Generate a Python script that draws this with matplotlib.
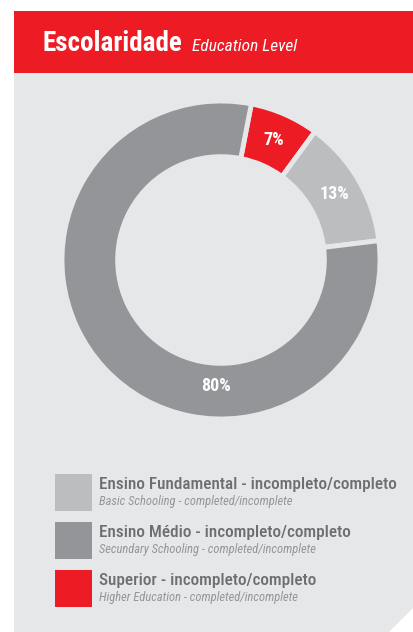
import matplotlib.pyplot as plt
from matplotlib.patches import Polygon, Rectangle

FIGURE_NAME = "out.png"

categories = ["Superior", "Ensino Fundamental", "Ensino Médio"]
shares = [7, 13, 80]
slice_colors = ["#ED1C24", "#BCBDBF", "#939598"]

legend_titles = [
    "Ensino Fundamental - incompleto/completo",
    "Ensino Médio - incompleto/completo",
    "Superior - incompleto/completo",
]
legend_subtitles = [
    "Basic Schooling - completed/incomplete",
    "Secundary Schooling - completed/incomplete",
    "Higher Education - completed/incomplete",
]
legend_colors = ["#BCBDBF", "#939598", "#ED1C24"]

RED = "#ED1C24"
PANEL = "#E6E7E8"
FONT = ["Roboto Condensed", "DejaVu Sans"]

W, H = 414, 632
fig = plt.figure(figsize=(W / 100, H / 100), dpi=100)
fig.patch.set_facecolor("white")

# background layer in pixel coordinates
bg = fig.add_axes([0, 0, 1, 1])
bg.set_xlim(0, W)
bg.set_ylim(H, 0)
bg.axis("off")

bg.add_patch(Polygon([(14, 73), (414, 73), (414, 607), (389, 632), (14, 632)],
                     closed=True, facecolor=PANEL, edgecolor="none"))
bg.add_patch(Rectangle((14, 11), 400, 62, facecolor=RED, edgecolor="none"))

bg.text(43, 51, "Escolaridade", color="white", fontsize=19.5, fontweight="bold",
        family=FONT, ha="left", va="baseline")
bg.text(192, 51, "Education Level", color="white", fontsize=12.5, style="italic",
        family=FONT, ha="left", va="baseline")

# legend
for i, (title, sub, col) in enumerate(zip(legend_titles, legend_subtitles, legend_colors)):
    top = 474 + i * 48
    bg.add_patch(Rectangle((55, top), 37, 37, facecolor=col, edgecolor="none"))
    bg.text(99, top + 15.5, title, color="#6D6E71", fontsize=12.3, fontweight="medium",
            family=FONT, ha="left", va="baseline")
    bg.text(99, top + 31.5, sub, color="#939598", fontsize=9, style="italic",
            family=FONT, ha="left", va="baseline")

# donut
cx, cy, r = 221, 260, 159
ax = fig.add_axes([(cx - r) / W, 1 - (cy + r) / H, 2 * r / W, 2 * r / H])
ax.set_aspect("equal")
wedges, texts = ax.pie(
    shares,
    colors=slice_colors,
    startangle=79,
    counterclock=False,
    radius=1.0,
    wedgeprops=dict(width=0.35, edgecolor=PANEL, linewidth=3.5),
    labels=[f"{v}%" for v in shares],
    labeldistance=0.825,
    textprops=dict(color="white", fontsize=13, fontweight="bold", family=FONT,
                   ha="center", va="center"),
)
# the 80% label sits at the bottom of the ring in the original
texts[2].set_position((-0.03, -0.79))
ax.set_xlim(-1, 1)
ax.set_ylim(-1, 1)
ax.axis("off")

fig.savefig(FIGURE_NAME, dpi=100)
plt.close(fig)
